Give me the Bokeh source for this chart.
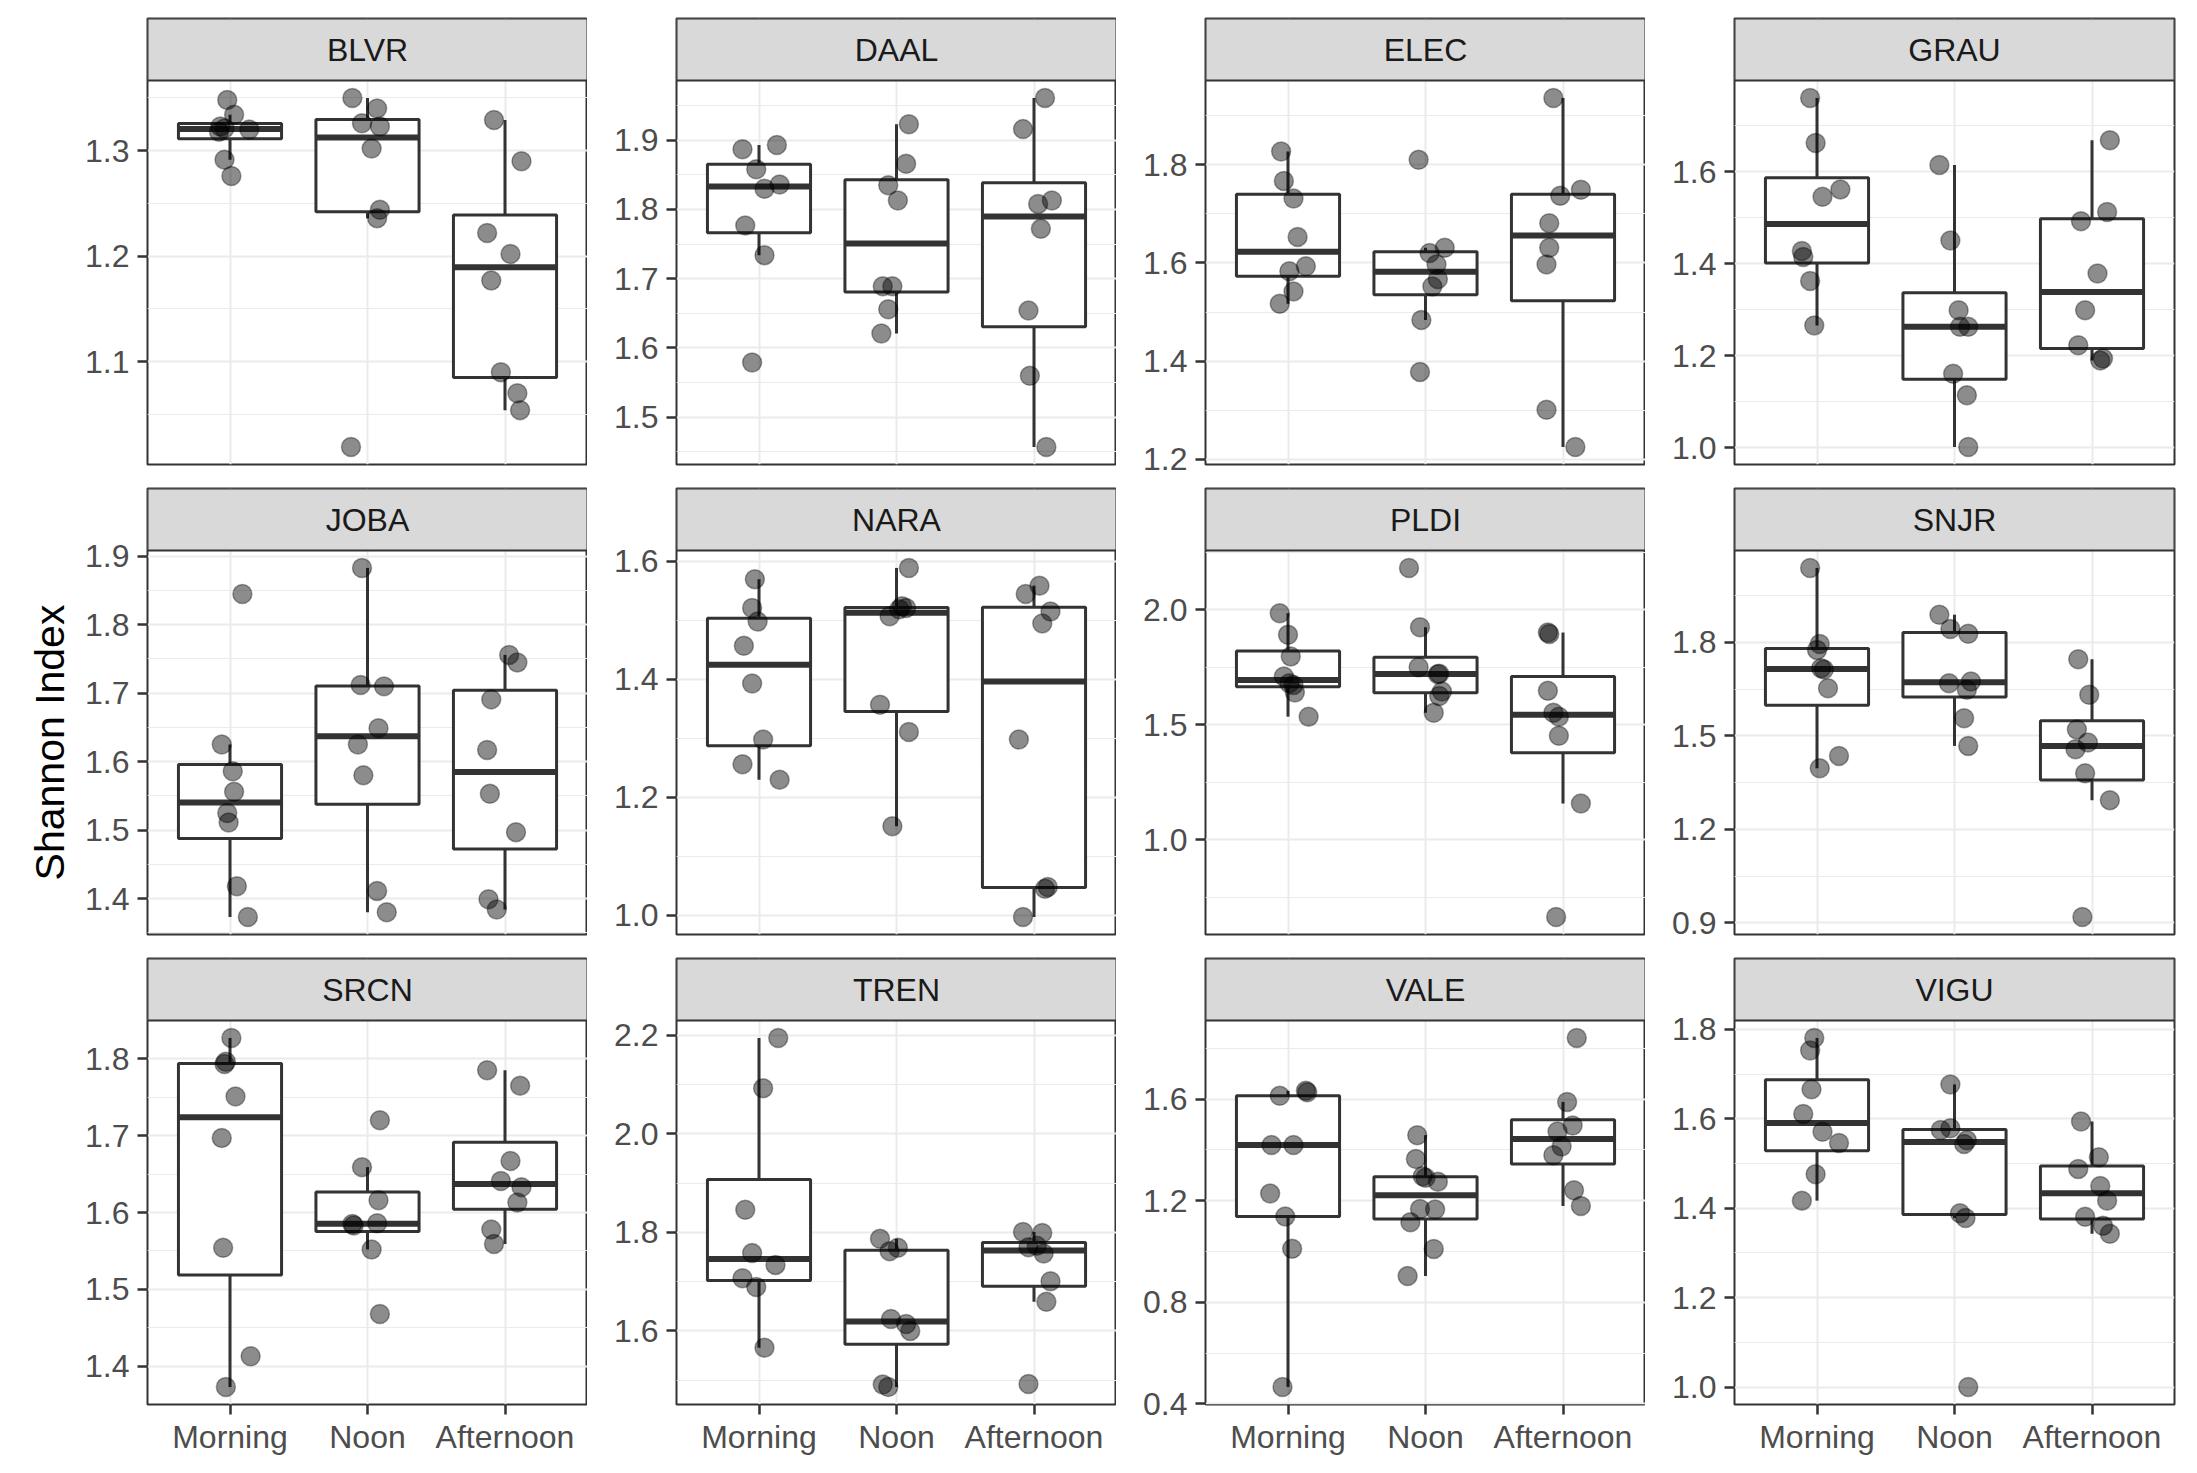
import numpy as np
from bokeh.plotting import figure
from bokeh.layouts import row, column
from bokeh.models import FixedTicker, PrintfTickFormatter, Range1d
from bokeh.embed import file_html
from bokeh.resources import INLINE
from bokeh.core.properties import value

# ---------------- data ----------------
sites = ["BLVR", "DAAL", "ELEC", "GRAU", "JOBA", "NARA",
         "PLDI", "SNJR", "SRCN", "TREN", "VALE", "VIGU"]
times = ["Morning", "Noon", "Afternoon"]
y_title = "Shannon Index"

# Shannon index values per site: [Morning, Noon, Afternoon]
BLVR = [[1.348, 1.334, 1.323, 1.321, 1.318, 1.320, 1.2915, 1.276],
        [1.350, 1.340, 1.326, 1.323, 1.302, 1.244, 1.236, 1.019],
        [1.329, 1.290, 1.222, 1.202, 1.177, 1.090, 1.070, 1.054]]
DAAL = [[1.887, 1.893, 1.858, 1.836, 1.830, 1.777, 1.734, 1.579],
        [1.923, 1.866, 1.835, 1.813, 1.689, 1.689, 1.656, 1.621],
        [1.961, 1.916, 1.808, 1.813, 1.772, 1.654, 1.560, 1.457]]
ELEC = [[1.827, 1.767, 1.731, 1.653, 1.593, 1.583, 1.542, 1.517],
        [1.810, 1.631, 1.620, 1.597, 1.567, 1.552, 1.484, 1.378],
        [1.936, 1.737, 1.749, 1.681, 1.631, 1.597, 1.301, 1.225]]
GRAU = [[1.761, 1.663, 1.562, 1.546, 1.428, 1.415, 1.363, 1.266],
        [1.615, 1.451, 1.299, 1.263, 1.263, 1.161, 1.114, 1.0015],
        [1.669, 1.513, 1.493, 1.379, 1.299, 1.223, 1.194, 1.190]]
JOBA = [[1.845, 1.625, 1.586, 1.556, 1.525, 1.511, 1.418, 1.373],
        [1.883, 1.712, 1.710, 1.649, 1.625, 1.580, 1.411, 1.380],
        [1.756, 1.745, 1.691, 1.617, 1.553, 1.497, 1.399, 1.384]]
NARA = [[1.570, 1.521, 1.498, 1.457, 1.393, 1.298, 1.256, 1.230],
        [1.589, 1.524, 1.519, 1.521, 1.507, 1.357, 1.311, 1.151],
        [1.559, 1.545, 1.515, 1.495, 1.298, 1.048, 1.045, 0.997]]
PLDI = [[1.985, 1.891, 1.797, 1.710, 1.680, 1.673, 1.640, 1.535],
        [2.182, 1.924, 1.750, 1.722, 1.720, 1.644, 1.625, 1.552],
        [1.901, 1.895, 1.648, 1.552, 1.535, 1.452, 1.157, 0.663]]
SNJR = [[2.039, 1.795, 1.776, 1.713, 1.717, 1.653, 1.436, 1.396],
        [1.889, 1.843, 1.828, 1.669, 1.675, 1.648, 1.557, 1.468],
        [1.746, 1.632, 1.521, 1.479, 1.457, 1.380, 1.294, 0.919]]
SRCN = [[1.827, 1.796, 1.793, 1.751, 1.697, 1.554, 1.413, 1.373],
        [1.720, 1.659, 1.616, 1.585, 1.583, 1.586, 1.552, 1.468],
        [1.785, 1.765, 1.667, 1.641, 1.633, 1.613, 1.578, 1.559]]
TREN = [[2.195, 2.093, 1.846, 1.758, 1.734, 1.707, 1.689, 1.566],
        [1.787, 1.769, 1.762, 1.624, 1.614, 1.600, 1.491, 1.486],
        [1.801, 1.799, 1.770, 1.773, 1.757, 1.701, 1.659, 1.492]]
VALE = [[1.613, 1.633, 1.627, 1.419, 1.419, 1.228, 1.138, 1.011, 0.466],
        [1.458, 1.364, 1.296, 1.290, 1.275, 1.167, 1.165, 1.115, 1.010, 0.903],
        [1.841, 1.589, 1.496, 1.473, 1.413, 1.379, 1.241, 1.179]]
VIGU = [[1.781, 1.753, 1.666, 1.611, 1.571, 1.546, 1.476, 1.417],
        [1.677, 1.575, 1.579, 1.552, 1.544, 1.389, 1.378, 1.000],
        [1.594, 1.514, 1.488, 1.450, 1.417, 1.381, 1.361, 1.343]]

# horizontal jitter offsets (category units) of each point
BLVR_jit = [[-0.02, 0.03, -0.07, -0.04, -0.08, 0.14, -0.04, 0.01],
            [-0.11, 0.07, -0.04, 0.09, 0.03, 0.09, 0.07, -0.12],
            [-0.08, 0.12, -0.13, 0.04, -0.10, -0.03, 0.09, 0.11]]
DAAL_jit = [[-0.12, 0.13, -0.02, 0.15, 0.04, -0.10, 0.04, -0.05],
            [0.09, 0.07, -0.06, 0.01, -0.10, -0.03, -0.06, -0.11],
            [0.08, -0.08, 0.03, 0.13, 0.05, -0.04, -0.03, 0.09]]
ELEC_jit = [[-0.05, -0.03, 0.04, 0.07, 0.13, 0.01, 0.04, -0.06],
            [-0.05, 0.14, 0.03, 0.08, 0.09, 0.05, -0.03, -0.04],
            [-0.07, -0.02, 0.13, -0.10, -0.10, -0.12, -0.12, 0.09]]
GRAU_jit = [[-0.05, -0.01, 0.17, 0.04, -0.11, -0.10, -0.05, -0.02],
            [-0.11, -0.03, 0.03, 0.04, 0.10, -0.01, 0.09, 0.10],
            [0.13, 0.11, -0.08, 0.04, -0.05, -0.10, 0.08, 0.06]]
JOBA_jit = [[0.09, -0.06, 0.02, 0.03, -0.02, -0.01, 0.05, 0.13],
            [-0.04, -0.05, 0.12, 0.08, -0.07, -0.03, 0.07, 0.14],
            [0.03, 0.09, -0.10, -0.13, -0.11, 0.08, -0.12, -0.06]]
NARA_jit = [[-0.03, -0.05, -0.01, -0.11, -0.05, 0.03, -0.12, 0.15],
            [0.09, 0.04, 0.02, 0.07, -0.05, -0.12, 0.09, -0.03],
            [0.04, -0.06, 0.12, 0.06, -0.11, 0.10, 0.08, -0.08]]
PLDI_jit = [[-0.06, 0.00, 0.02, -0.03, 0.01, 0.04, 0.05, 0.15],
            [-0.12, -0.04, -0.05, 0.10, 0.09, 0.12, 0.10, 0.06],
            [-0.11, -0.10, -0.11, -0.07, -0.03, -0.03, 0.13, -0.05]]
SNJR_jit = [[-0.05, 0.02, 0.00, 0.05, 0.03, 0.08, 0.16, 0.02],
            [-0.11, -0.03, 0.10, -0.04, 0.12, 0.09, 0.07, 0.10],
            [-0.10, -0.02, -0.11, -0.03, -0.12, -0.05, 0.13, -0.07]]
SRCN_jit = [[0.01, -0.03, -0.04, 0.04, -0.06, -0.05, 0.15, -0.03],
            [0.09, -0.04, 0.08, -0.11, -0.10, 0.07, 0.03, 0.09],
            [-0.13, 0.11, 0.04, -0.03, 0.12, 0.09, -0.10, -0.08]]
TREN_jit = [[0.14, 0.03, -0.10, -0.05, 0.12, -0.12, -0.02, 0.04],
            [-0.12, 0.01, -0.05, -0.04, 0.07, 0.10, -0.10, -0.06],
            [-0.08, 0.06, -0.04, 0.02, 0.07, 0.12, 0.09, -0.04]]
VALE_jit = [[-0.06, 0.13, 0.14, -0.12, 0.04, -0.13, -0.02, 0.03, -0.04],
            [-0.06, -0.07, -0.02, 0.00, 0.09, -0.04, 0.07, -0.11, 0.06, -0.13],
            [0.10, 0.03, 0.07, -0.04, -0.01, -0.07, 0.08, 0.13]]
VIGU_jit = [[-0.02, -0.05, -0.04, -0.10, 0.04, 0.16, -0.01, -0.11],
            [-0.03, -0.10, -0.03, 0.09, 0.07, 0.04, 0.08, 0.10],
            [-0.08, 0.05, -0.10, 0.06, 0.11, -0.05, 0.08, 0.13]]

# y tick labels per panel
BLVR_ticks = [1.1, 1.2, 1.3]
DAAL_ticks = [1.5, 1.6, 1.7, 1.8, 1.9]
ELEC_ticks = [1.2, 1.4, 1.6, 1.8]
GRAU_ticks = [1.0, 1.2, 1.4, 1.6]
JOBA_ticks = [1.4, 1.5, 1.6, 1.7, 1.8, 1.9]
NARA_ticks = [1.0, 1.2, 1.4, 1.6]
PLDI_ticks = [1.0, 1.5, 2.0]
SNJR_ticks = [0.9, 1.2, 1.5, 1.8]
SRCN_ticks = [1.4, 1.5, 1.6, 1.7, 1.8]
TREN_ticks = [1.6, 1.8, 2.0, 2.2]
VALE_ticks = [0.4, 0.8, 1.2, 1.6]
VIGU_ticks = [1.0, 1.2, 1.4, 1.6, 1.8]

site_vals = [BLVR, DAAL, ELEC, GRAU, JOBA, NARA, PLDI, SNJR, SRCN, TREN, VALE, VIGU]
site_jit = [BLVR_jit, DAAL_jit, ELEC_jit, GRAU_jit, JOBA_jit, NARA_jit,
            PLDI_jit, SNJR_jit, SRCN_jit, TREN_jit, VALE_jit, VIGU_jit]
site_ticks = [BLVR_ticks, DAAL_ticks, ELEC_ticks, GRAU_ticks, JOBA_ticks, NARA_ticks,
              PLDI_ticks, SNJR_ticks, SRCN_ticks, TREN_ticks, VALE_ticks, VIGU_ticks]

# ---------------- style ----------------
FONT = "Liberation Sans"
TICK_FS = "32px"
STRIP_FS = "32px"
TITLE_FS = "41px"
FRAME_W, FRAME_H, STRIP_H = 440, 446, 62
DARK = "#333333"
GRID = "#EBEBEB"
BOX_W = 0.75
TOP_BORDERS = [18, 10, 10]
BOTTOM_BORDERS = [14, 14, 56]


def box_stats(v):
    a = np.sort(np.asarray(v, dtype=float))
    q1, med, q3 = np.percentile(a, [25, 50, 75])
    iqr = q3 - q1
    lo = a[a >= q1 - 1.5 * iqr].min()
    hi = a[a <= q3 + 1.5 * iqr].max()
    return q1, med, q3, lo, hi


def style_axis(ax, standoff):
    ax.axis_line_color = None
    ax.major_tick_line_color = DARK
    ax.major_tick_line_width = 2.5
    ax.major_tick_out = 10
    ax.major_tick_in = 0
    ax.minor_tick_line_color = None
    ax.major_label_standoff = standoff
    ax.major_label_text_font = FONT
    ax.major_label_text_font_size = TICK_FS
    ax.major_label_text_color = "#4D4D4D"


def make_panel(name, vals, jit, ticks, col, rowi):
    allv = np.concatenate([np.asarray(v, dtype=float) for v in vals])
    vmin, vmax = allv.min(), allv.max()
    pad = 0.05 * (vmax - vmin)
    y0, y1 = vmin - pad, vmax + pad
    ytop = y0 + (y1 - y0) * FRAME_H / (FRAME_H - STRIP_H)
    bottom_row = (rowi == 2)

    p = figure(frame_width=FRAME_W, frame_height=FRAME_H,
               x_range=Range1d(0.4, 3.6), y_range=Range1d(y0, ytop),
               output_backend="svg", toolbar_location=None,
               min_border_left=69 if col == 0 else 89,
               min_border_right=5 if col == 3 else 0,
               min_border_top=TOP_BORDERS[rowi],
               min_border_bottom=BOTTOM_BORDERS[rowi],
               background_fill_color="white", border_fill_color="white",
               outline_line_color=DARK, outline_line_width=2)

    step = ticks[1] - ticks[0]
    cand = [ticks[0] - step / 2] + [t + step / 2 for t in ticks]
    minors = [m for m in cand if y0 <= m <= y1]
    majors = [t for t in ticks if y0 <= t <= y1]

    # grid
    p.ygrid.ticker = FixedTicker(ticks=majors, minor_ticks=minors)
    p.ygrid.grid_line_color = GRID
    p.ygrid.grid_line_width = 2
    p.ygrid.minor_grid_line_color = GRID
    p.ygrid.minor_grid_line_width = 1
    p.xgrid.ticker = FixedTicker(ticks=[1, 2, 3])
    p.xgrid.grid_line_color = GRID
    p.xgrid.grid_line_width = 2

    # y axis
    ya = p.yaxis[0]
    ya.ticker = FixedTicker(ticks=majors)
    ya.formatter = PrintfTickFormatter(format="%.1f")
    style_axis(ya, 8)

    xa = p.xaxis[0]
    if bottom_row:
        xa.ticker = FixedTicker(ticks=[1, 2, 3])
        xa.major_label_overrides = {1: times[0], 2: times[1], 3: times[2]}
        style_axis(xa, 4)
    else:
        xa.visible = False

    # strip
    p.quad(left=[0.4], right=[3.6], bottom=[y1], top=[ytop],
           fill_color="#D9D9D9", line_color=DARK, line_width=2)
    p.text(x=[2.0], y=[(y1 + ytop) / 2], text=[name],
           text_align="center", text_baseline="middle",
           text_font=value(FONT), text_font_size=STRIP_FS, text_color="#1A1A1A")

    # boxplots
    xs = np.array([1.0, 2.0, 3.0])
    stats = np.array([box_stats(v) for v in vals])
    q1, med, q3, lo, hi = stats.T
    p.segment(x0=xs, y0=q3, x1=xs, y1=hi, line_color=DARK, line_width=3)
    p.segment(x0=xs, y0=q1, x1=xs, y1=lo, line_color=DARK, line_width=3)
    p.quad(left=xs - BOX_W / 2, right=xs + BOX_W / 2, bottom=q1, top=q3,
           fill_color="white", line_color=DARK, line_width=3)
    p.segment(x0=xs - BOX_W / 2, y0=med, x1=xs + BOX_W / 2, y1=med,
              line_color=DARK, line_width=6)

    # jittered points
    px, py = [], []
    for i, (v, j) in enumerate(zip(vals, jit)):
        px += [xs[i] + d for d in j]
        py += list(v)
    p.scatter(px, py, size=19, fill_color="black", fill_alpha=0.45,
              line_color="black", line_alpha=0.35, line_width=1.5)
    return p


figs = []
for k, name in enumerate(sites):
    figs.append(make_panel(name, site_vals[k], site_jit[k], site_ticks[k], k % 4, k // 4))

TOTAL_H = sum(TOP_BORDERS) + sum(BOTTOM_BORDERS) + 3 * FRAME_H
TF_W = 78
tf = figure(width=TF_W, height=TOTAL_H, x_range=Range1d(0, TF_W), y_range=Range1d(0, TOTAL_H),
            min_border=0, toolbar_location=None, output_backend="svg",
            x_axis_type=None, y_axis_type=None, outline_line_color=None,
            background_fill_color="white", border_fill_color="white")
tf.grid.visible = False
tf.text(x=[49], y=[TOTAL_H - 742], text=[y_title], angle=np.pi / 2,
        text_align="center", text_baseline="middle",
        text_font=value(FONT), text_font_size=TITLE_FS, text_color="black")

grid = column(row(*figs[0:4]), row(*figs[4:8]), row(*figs[8:12]))
layout = row(tf, grid)

open("out.html", "w").write(file_html(layout, INLINE))
